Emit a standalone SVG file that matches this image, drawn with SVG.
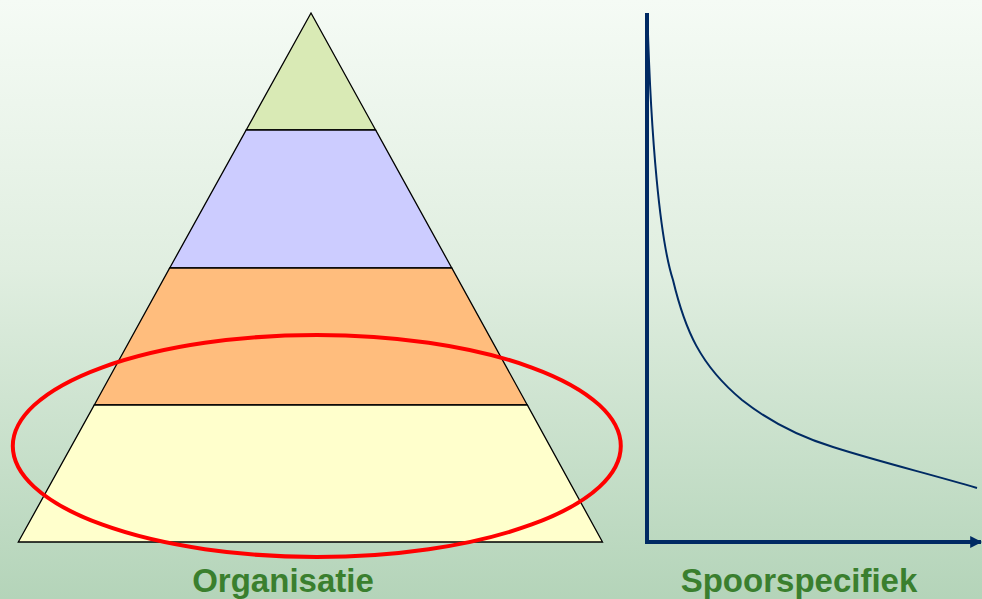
<svg xmlns="http://www.w3.org/2000/svg" width="982" height="599" viewBox="0 0 982 599">
  <defs>
    <linearGradient id="bg" x1="0" y1="0" x2="0" y2="1">
      <stop offset="0" stop-color="#f5fbf5"/>
      <stop offset="0.45" stop-color="#e0eee0"/>
      <stop offset="1" stop-color="#b4d4b9"/>
    </linearGradient>
    <marker id="arrow" viewBox="0 0 10 10" refX="9" refY="5" markerWidth="3" markerHeight="3" orient="auto" markerUnits="strokeWidth">
      <path d="M0,0 L10,5 L0,10 z" fill="#002a63"/>
    </marker>
    <style>
      .layer { stroke: #000; stroke-width: 1.3; stroke-linejoin: miter; }
      .axis { stroke: #002a63; stroke-width: 4; fill: none; }
      .curve { stroke: #002a63; stroke-width: 2; fill: none; }
      .label { font-family: "Liberation Sans", Arial, sans-serif; font-weight: bold; font-size: 33px; fill: #3a7f2e; text-anchor: middle; }
    </style>
  </defs>
  <rect width="982" height="599" fill="url(#bg)"/>

  <g id="pyramid">
    <g id="layer-top"><polygon class="layer" points="311,13 375.6,130 246.2,130" fill="#d9eab5"/></g>
    <g id="layer-2"><polygon class="layer" points="246.2,130 375.6,130 451.8,268 169.7,268" fill="#ccccff"/></g>
    <g id="layer-3"><polygon class="layer" points="169.7,268 451.8,268 527.3,405 94.3,405" fill="#ffbd7d"/></g>
    <g id="layer-4"><polygon class="layer" points="94.3,405 527.3,405 602.5,542 18.3,542" fill="#ffffcc"/></g>
  </g>

  <g id="highlight">
    <ellipse cx="316.8" cy="446" rx="304" ry="111" fill="none" stroke="#ff0000" stroke-width="4"/>
  </g>

  <g id="connectors">
    <line class="axis" x1="647" y1="13" x2="647" y2="544"/>
    <line class="axis" x1="645" y1="542" x2="981" y2="542" marker-end="url(#arrow)"/>
    <path class="curve" d="M647.5,18 C651,140 660,240 673,280 C685,330 700,365 742,400 C770,422 800,437 833,447 C880,462 930,474 977,488"/>
  </g>

  <g id="label-organisatie"><text class="label" x="283" y="592">Organisatie</text></g>
  <g id="label-spoorspecifiek"><text class="label" x="799" y="592">Spoorspecifiek</text></g>
</svg>
